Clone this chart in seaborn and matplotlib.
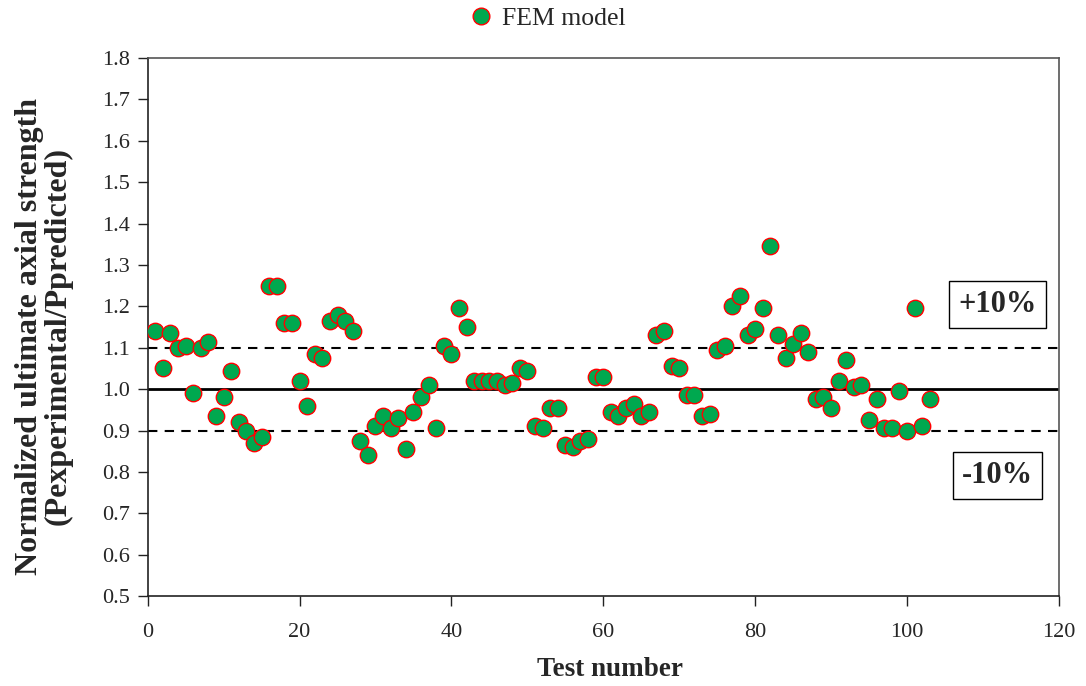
import numpy as np
import pandas as pd
import seaborn as sns
import matplotlib.pyplot as plt

test_number = list(range(1, 104))
ratio = [
    1.14, 1.05, 1.135, 1.10, 1.105, 0.99, 1.10, 1.115, 0.935, 0.98,
    1.045, 0.92, 0.90, 0.87, 0.885, 1.25, 1.25, 1.16, 1.16, 1.02,
    0.96, 1.085, 1.075, 1.165, 1.18, 1.165, 1.14, 0.875, 0.84, 0.91,
    0.935, 0.905, 0.93, 0.855, 0.945, 0.98, 1.01, 0.905, 1.105, 1.085,
    1.195, 1.15, 1.02, 1.02, 1.02, 1.02, 1.01, 1.015, 1.05, 1.045,
    0.91, 0.905, 0.955, 0.955, 0.865, 0.86, 0.875, 0.88, 1.03, 1.03,
    0.945, 0.935, 0.955, 0.965, 0.935, 0.945, 1.13, 1.14, 1.055, 1.05,
    0.985, 0.985, 0.935, 0.94, 1.095, 1.105, 1.20, 1.225, 1.13, 1.145,
    1.195, 1.345, 1.13, 1.075, 1.11, 1.135, 1.09, 0.975, 0.98, 0.955,
    1.02, 1.07, 1.005, 1.01, 0.925, 0.975, 0.905, 0.905, 0.995, 0.90,
    1.195, 0.91, 0.975,
]

df = pd.DataFrame({"Test number": test_number, "ratio": ratio})

sns.set_style("ticks")
plt.rcParams['font.family'] = ['Liberation Serif', 'DejaVu Serif']

fig = plt.figure(figsize=(10.86, 6.86), dpi=100)
ax = fig.add_axes([0.136, 0.131, 0.839, 0.7845])

# reference lines: 1.0 and +/-10%
ax.axhline(1.0, color='black', lw=2, zorder=1)
ax.axhline(1.1, color='black', lw=1.5, ls=(0, (4.5, 3.5)), zorder=1)
ax.axhline(0.9, color='black', lw=1.5, ls=(0, (4.5, 3.5)), zorder=1)

sns.scatterplot(data=df, x="Test number", y="ratio", ax=ax, s=140,
                color='#00a84f', edgecolor='red', linewidth=1,
                zorder=3, legend=False)

ax.set_xlim(0, 120)
ax.set_ylim(0.5, 1.8)
ax.set_xticks(np.arange(0, 121, 20))
yt = np.arange(0.5, 1.81, 0.1)
ax.set_yticks(yt)
ax.set_yticklabels([f"{v:.1f}" for v in yt])
ax.tick_params(axis='both', labelsize=16, direction='out', length=7, width=1,
               color='#222222', pad=6)
ax.tick_params(axis='x', pad=12)

for side in ['left', 'bottom']:
    ax.spines[side].set_color('#222222')
    ax.spines[side].set_linewidth(1.2)
for side in ['top', 'right']:
    ax.spines[side].set_visible(True)
    ax.spines[side].set_color('#555555')
    ax.spines[side].set_linewidth(1.2)

ax.set_xlabel('Test number', fontsize=19.5, fontweight='bold')
ax.xaxis.set_label_coords(0.507, -0.114)
ax.set_ylabel('Normalized ultimate axial strength\n(Pexperimental/Ppredicted)',
              fontsize=23, fontweight='bold', linespacing=1.0, va='center')
ax.yaxis.set_label_coords(-0.114, 0.483)

box = dict(boxstyle='square,pad=0.3', fc='white', ec='black', lw=1)
ax.text(111.9, 1.204, '+10%', fontsize=22, fontweight='bold', ha='center',
        va='center', bbox=box, zorder=5)
ax.text(111.9, 0.792, '-10%', fontsize=22, fontweight='bold', ha='center',
        va='center', bbox=box, zorder=5)

h = plt.Line2D([], [], ls='', marker='o', markersize=12, markerfacecolor='#00a84f',
               markeredgecolor='red', markeredgewidth=1)
fig.legend([h], ['FEM model'], loc='center', bbox_to_anchor=(547 / 1086, 1 - 19 / 686),
           frameon=False, fontsize=18.5, handletextpad=0.3, handlelength=1.0)

fig.savefig('out.png', dpi=100)
